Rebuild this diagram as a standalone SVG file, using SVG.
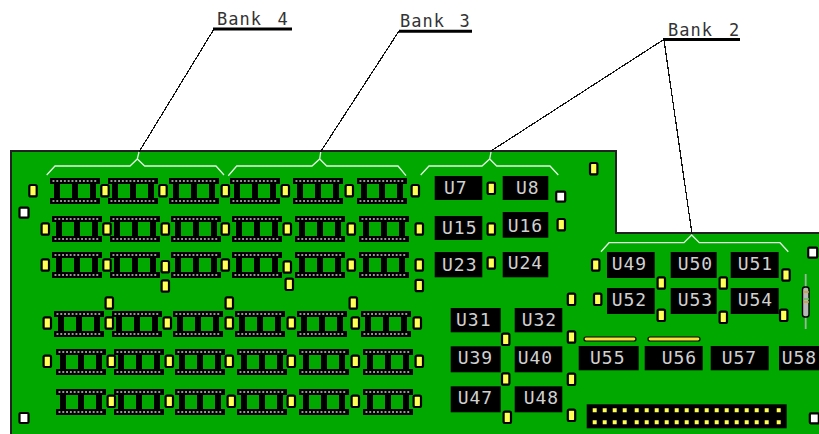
<svg xmlns="http://www.w3.org/2000/svg" width="819" height="434" viewBox="0 0 819 434">
<style>
.u{fill:#000}
.t{font-family:"DejaVu Sans Mono","Liberation Mono",monospace;font-size:18px;fill:#d0d0d0;letter-spacing:1px}
.b{font-family:"DejaVu Sans Mono","Liberation Mono",monospace;font-size:17px;fill:#333;letter-spacing:1px}
.ul{stroke:#000;stroke-width:3;fill:none}
.ld{stroke:#111;stroke-width:1.2;fill:none;shape-rendering:crispEdges}
.br{stroke:#e4f4e4;stroke-width:1.3;fill:none}
</style>
<defs>
<g id="mem">
<rect x="0" y="0" width="50" height="6" fill="#000"/>
<rect x="0" y="20" width="50" height="6" fill="#000"/>
<rect x="4" y="5" width="6" height="16" fill="#000"/>
<rect x="22" y="5" width="6" height="16" fill="#000"/>
<rect x="40" y="5" width="6" height="16" fill="#000"/>
<path d="M2.5 3H48M2.5 23H48" stroke="#999" stroke-width="2" stroke-dasharray="1.9 1.9" fill="none"/>
</g>
<rect id="p" x="-3.7" y="-5.7" width="7.4" height="11.4" rx="1.5" fill="#ffff55" stroke="#000" stroke-width="2.2"/>
<rect id="w" x="-4.5" y="-5" width="9" height="10" rx="1" fill="#fff" stroke="#000" stroke-width="2.2"/>
</defs>
<rect width="819" height="434" fill="#fff"/>
<path id="board" d="M11 445V151H616V233H830V445Z" fill="#00a800" stroke="#222" stroke-width="2"/>
<g id="memory">
<g id="row1"><use href="#mem" x="50" y="178"/><use href="#mem" x="108" y="178"/><use href="#mem" x="169" y="178"/><use href="#mem" x="230" y="178"/><use href="#mem" x="293" y="178"/><use href="#mem" x="357" y="178"/></g>
<g id="row2"><use href="#mem" x="52" y="216"/><use href="#mem" x="110" y="216"/><use href="#mem" x="171" y="216"/><use href="#mem" x="232" y="216"/><use href="#mem" x="295" y="216"/><use href="#mem" x="359" y="216"/></g>
<g id="row3"><use href="#mem" x="52" y="252"/><use href="#mem" x="110" y="252"/><use href="#mem" x="171" y="252"/><use href="#mem" x="232" y="252"/><use href="#mem" x="295" y="252"/><use href="#mem" x="359" y="252"/></g>
<g id="row4"><use href="#mem" x="54" y="311"/><use href="#mem" x="112" y="311"/><use href="#mem" x="173" y="311"/><use href="#mem" x="235" y="311"/><use href="#mem" x="297" y="311"/><use href="#mem" x="361" y="311"/></g>
<g id="row5"><use href="#mem" x="56" y="349"/><use href="#mem" x="114" y="349"/><use href="#mem" x="175" y="349"/><use href="#mem" x="237" y="349"/><use href="#mem" x="299" y="349"/><use href="#mem" x="363" y="349"/></g>
<g id="row6"><use href="#mem" x="56" y="389"/><use href="#mem" x="114" y="389"/><use href="#mem" x="175" y="389"/><use href="#mem" x="237" y="389"/><use href="#mem" x="299" y="389"/><use href="#mem" x="363" y="389"/></g>
</g>
<g id="pads">
<use href="#p" x="33" y="190.7"/><use href="#p" x="105" y="190.7"/><use href="#p" x="163" y="190.7"/><use href="#p" x="225.3" y="190.7"/><use href="#p" x="285.3" y="190.7"/><use href="#p" x="349.3" y="190.7"/><use href="#p" x="415.3" y="190.7"/>
<use href="#p" x="45.3" y="229"/><use href="#p" x="107" y="229"/><use href="#p" x="165.3" y="229"/><use href="#p" x="225.3" y="229"/><use href="#p" x="287.3" y="229"/><use href="#p" x="351.3" y="229"/><use href="#p" x="419.3" y="229"/>
<use href="#p" x="45.3" y="265"/><use href="#p" x="107" y="265"/><use href="#p" x="165.3" y="266.7"/><use href="#p" x="165.3" y="286"/><use href="#p" x="225.3" y="265"/><use href="#p" x="287.3" y="267"/><use href="#p" x="289.3" y="284.3"/><use href="#p" x="351.3" y="265"/><use href="#p" x="419.3" y="265"/><use href="#p" x="419.3" y="285.5"/>
<use href="#p" x="109.3" y="303"/><use href="#p" x="229.3" y="303"/><use href="#p" x="353.3" y="303"/>
<use href="#p" x="47.3" y="323"/><use href="#p" x="109.3" y="323"/><use href="#p" x="167.3" y="323"/><use href="#p" x="229.3" y="323"/><use href="#p" x="291.3" y="323"/><use href="#p" x="355.3" y="323"/><use href="#p" x="417.3" y="323"/>
<use href="#p" x="47.3" y="361.3"/><use href="#p" x="111.3" y="361.3"/><use href="#p" x="169.3" y="361.3"/><use href="#p" x="229.3" y="361.3"/><use href="#p" x="291.3" y="361.3"/><use href="#p" x="355.3" y="361.3"/><use href="#p" x="419.3" y="361.3"/>
<use href="#p" x="111.3" y="401.3"/><use href="#p" x="169.3" y="401.3"/><use href="#p" x="231.3" y="401.3"/><use href="#p" x="291.3" y="401.3"/><use href="#p" x="355.3" y="401.3"/><use href="#p" x="417.3" y="401.3"/>
<use href="#p" x="491.3" y="188.3"/><use href="#p" x="491.3" y="229"/><use href="#p" x="491.3" y="263"/><use href="#p" x="561.3" y="224.7"/><use href="#p" x="593.7" y="168.7"/><use href="#p" x="595.7" y="265"/>
<use href="#p" x="661.3" y="283"/><use href="#p" x="723.3" y="283"/><use href="#p" x="786" y="275"/><use href="#p" x="571.5" y="299.3"/><use href="#p" x="597.7" y="299.3"/><use href="#p" x="661.3" y="315.3"/><use href="#p" x="723.3" y="317.3"/><use href="#p" x="783.7" y="315.3"/>
<use href="#p" x="571.5" y="337"/><use href="#p" x="571.5" y="379.3"/><use href="#p" x="571.5" y="415.3"/>
<use href="#p" x="505.7" y="339.3"/><use href="#p" x="505.7" y="379"/><use href="#p" x="507.3" y="417.3"/>
<use href="#w" x="24" y="212.7"/><use href="#w" x="24" y="418"/><use href="#w" x="560.7" y="196.7"/><use href="#w" x="812.7" y="252.7"/><use href="#w" x="814.3" y="418.3"/>
</g>
<g id="U7"><rect class="u" x="434.7" y="176" width="47.6" height="24"/><text class="t" x="444" y="194">U7</text></g>
<g id="U8"><rect class="u" x="502.7" y="176" width="45.6" height="24"/><text class="t" x="516" y="194">U8</text></g>
<g id="U15"><rect class="u" x="434.7" y="216" width="47.6" height="24"/><text class="t" x="442" y="234">U15</text></g>
<g id="U16"><rect class="u" x="502.7" y="212" width="45.6" height="25.7"/><text class="t" x="507.7" y="231.7">U16</text></g>
<g id="U23"><rect class="u" x="434.7" y="252" width="47.6" height="25.3"/><text class="t" x="442" y="270.7">U23</text></g>
<g id="U24"><rect class="u" x="502.7" y="252" width="45.6" height="25.3"/><text class="t" x="507.7" y="269.3">U24</text></g>
<g id="U31"><rect class="u" x="450.7" y="308" width="50" height="24.3"/><text class="t" x="456" y="325.7">U31</text></g>
<g id="U32"><rect class="u" x="514.7" y="308" width="47.6" height="24.3"/><text class="t" x="521.7" y="325.7">U32</text></g>
<g id="U39"><rect class="u" x="450.7" y="346.3" width="50" height="26"/><text class="t" x="457.7" y="363.7">U39</text></g>
<g id="U40"><rect class="u" x="514.7" y="346.3" width="47.6" height="26"/><text class="t" x="517.7" y="363.7">U40</text></g>
<g id="U47"><rect class="u" x="450.7" y="386.3" width="50" height="26"/><text class="t" x="457.7" y="404">U47</text></g>
<g id="U48"><rect class="u" x="514.7" y="386.3" width="47.6" height="26"/><text class="t" x="523.7" y="404">U48</text></g>
<g id="U49"><rect class="u" x="607" y="252" width="47.7" height="26"/><text class="t" x="611.7" y="270">U49</text></g>
<g id="U50"><rect class="u" x="670.7" y="252" width="46" height="26"/><text class="t" x="677.7" y="270">U50</text></g>
<g id="U51"><rect class="u" x="730.7" y="252" width="48" height="26"/><text class="t" x="737.7" y="270">U51</text></g>
<g id="U52"><rect class="u" x="607" y="288" width="47.7" height="26"/><text class="t" x="611.7" y="306">U52</text></g>
<g id="U53"><rect class="u" x="670.7" y="288" width="46" height="26"/><text class="t" x="677.7" y="306">U53</text></g>
<g id="U54"><rect class="u" x="730.7" y="288" width="48" height="26"/><text class="t" x="737.7" y="306">U54</text></g>
<g id="U55"><rect class="u" x="578.7" y="346" width="60" height="24.3"/><text class="t" x="590" y="363.7">U55</text></g>
<g id="U56"><rect class="u" x="644.7" y="346" width="58" height="24.3"/><text class="t" x="661.7" y="363.7">U56</text></g>
<g id="U57"><rect class="u" x="710.7" y="346" width="58" height="24.3"/><text class="t" x="721.7" y="363.7">U57</text></g>
<g id="U58"><rect class="u" x="779" y="346" width="40" height="24.3"/><text class="t" x="781.7" y="363.7">U58</text></g>
<g id="slots">
<rect x="584" y="337" width="52" height="4" rx="2" fill="#ffe040" stroke="#000" stroke-width="1.2"/>
<rect x="648" y="337" width="52" height="4" rx="2" fill="#ffe040" stroke="#000" stroke-width="1.2"/>
</g>
<g id="resistor">
<path d="M805.7 274V329" stroke="#9cb89c" stroke-width="1.8"/>
<rect x="802.5" y="287" width="6.5" height="30" rx="2.5" fill="#b8b8b8" stroke="#000" stroke-width="1.4"/>
<path d="M803 292h6M803 302h6" stroke="#c8a030" stroke-width="1.5"/>
<path d="M803 299h6" stroke="#60c060" stroke-width="1.5"/>
</g>
<g id="header">
<rect x="586.7" y="404.3" width="200" height="24" fill="#000"/>
<g fill="#ffff55">
<path id="hr" d="M592.7 408.3h4v4h-4zM602.7 408.3h4v4h-4zM612.7 408.3h4v4h-4zM622.7 408.3h4v4h-4zM634.7 408.3h4v4h-4zM644.7 408.3h4v4h-4zM654.7 408.3h4v4h-4zM664.7 408.3h4v4h-4zM674.7 408.3h4v4h-4zM684.7 408.3h4v4h-4zM694.7 408.3h4v4h-4zM704.7 408.3h4v4h-4zM714.7 408.3h4v4h-4zM724.7 408.3h4v4h-4zM734.7 408.3h4v4h-4zM744.7 408.3h4v4h-4zM754.7 408.3h4v4h-4zM764.7 408.3h4v4h-4zM776.7 408.3h4v4h-4z"/>
<use href="#hr" y="12"/>
</g>
</g>
<g id="connectors">
<path class="br" d="M46.7 175L55 166H130L137.3 159L144.7 166H216L224 175M137.3 159L139 152"/>
<path class="br" d="M228.3 175.7L236.7 166H312L319.7 159L326.7 166H398L406 175.7M319.7 159L320.7 152"/>
<path class="br" d="M420.7 175L429 166H482L489.7 159L496.7 166H550L558.3 175M489.7 159L491 152"/>
<path class="br" d="M601 251.7L609 242.7H684L691.7 235L699.3 242.7H780L788.3 251.7"/>
<path class="ld" d="M214 29L139 152M399 31L320.5 152M663 40L491 151M664 40L692 234"/>
<path class="ul" d="M213 29H292M399 31.3H472M663 39.5H740"/>
</g>
<g id="labels">
<text class="b" x="217" y="25">Bank<tspan x="277.5">4</tspan></text>
<text class="b" x="400" y="27">Bank<tspan x="459.5">3</tspan></text>
<text class="b" x="668" y="36">Bank<tspan x="729">2</tspan></text>
</g>
</svg>
